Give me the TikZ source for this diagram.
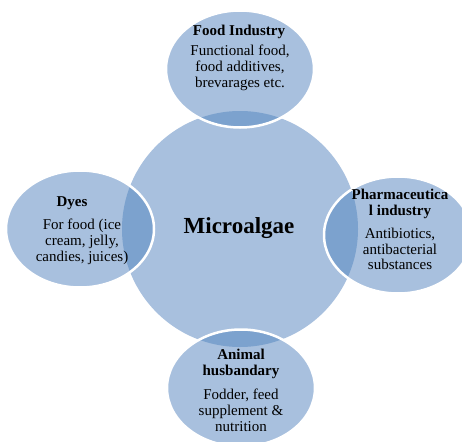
\documentclass[tikz,border=0pt]{standalone}
\usepackage{fontspec}
\setmainfont{Liberation Serif}
\usetikzlibrary{shapes.geometric}
\definecolor{algaelight}{RGB}{168,192,222}
\definecolor{algaedark}{RGB}{124,162,206}

\begin{document}
\begin{tikzpicture}[x=1pt, y=-1pt]
	\tikzstyle{hub} = [circle, fill=algaelight, minimum size=236pt, inner sep=0pt]
	\tikzstyle{petal} = [ellipse, fill=algaelight, minimum width=148pt, minimum height=117pt, inner sep=0pt]
	\tikzstyle{rim} = [white, line width=2.5pt]
	\tikzstyle{title} = [font=\fontsize{15}{15.8}\selectfont\bfseries, align=center, inner sep=0pt]
	\tikzstyle{body} = [font=\fontsize{15}{15.8}\selectfont, align=center, inner sep=0pt]

	\useasboundingbox (0,0) rectangle (462,441);

	% centre circle
	\node[hub] at (240,229) (mid) {};

	% the four petals, darker where they lie on the centre
	\foreach \p/\cx/\cy in {food/240/69, dyes/80/229, pharma/398/235, animal/241/388} {
		\node[petal] at (\cx,\cy) (\p) {};
		\begin{scope}
			\clip (mid.center) circle (118pt);
			\fill[algaedark] (\p.center) ellipse (74pt and 58.5pt);
		\end{scope}
		\draw[rim] (\p.center) ellipse (74pt and 58.5pt);
	}

	% texts
	\node[font=\fontsize{23}{26}\selectfont\bfseries] at (239,228) (midtext) {Microalgae};

	\node[title] at (239,32)	(foodhead)	{Food Industry};
	\node[body] at (240,68)	(foodtext)	{Functional food,\\food additives,\\brevarages etc.};

	\node[title] at (72,203)	(dyeshead)	{Dyes};
	\node[body] at (82,242)	(dyestext)	{For food (ice\\cream, jelly,\\candies, juices)};

	\node[title] at (400,204)	(pharmahead)	{Pharmaceutica\\l industry};
	\node[body] at (400,249)	(pharmatext)	{Antibiotics,\\antibacterial\\substances};

	\node[title] at (241,364)	(animalhead)	{Animal\\husbandary};
	\node[body] at (241,410)	(animaltext)	{Fodder, feed\\supplement \&\\nutrition};
\end{tikzpicture}
\end{document}
